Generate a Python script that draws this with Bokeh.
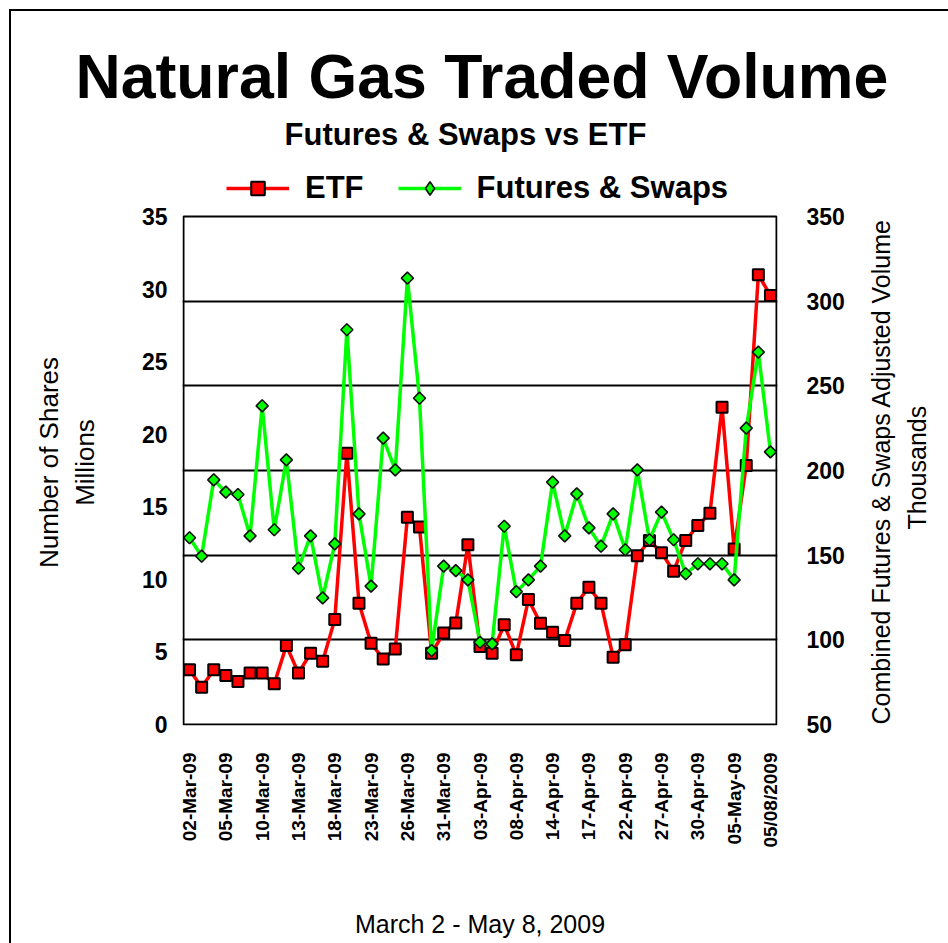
import math
from bokeh.plotting import figure
from bokeh.models import (Range1d, LinearAxis, FixedTicker, Grid, Label, BoxAnnotation,
                          Legend, LegendItem, Title)
from bokeh.embed import file_html
from bokeh.resources import INLINE

# ---------------- data ----------------
dates = ["02-Mar-09", "03-Mar-09", "04-Mar-09", "05-Mar-09", "06-Mar-09",
         "09-Mar-09", "10-Mar-09", "11-Mar-09", "12-Mar-09", "13-Mar-09",
         "16-Mar-09", "17-Mar-09", "18-Mar-09", "19-Mar-09", "20-Mar-09",
         "23-Mar-09", "24-Mar-09", "25-Mar-09", "26-Mar-09", "27-Mar-09",
         "30-Mar-09", "31-Mar-09", "01-Apr-09", "02-Apr-09", "03-Apr-09",
         "06-Apr-09", "07-Apr-09", "08-Apr-09", "09-Apr-09", "13-Apr-09",
         "14-Apr-09", "15-Apr-09", "16-Apr-09", "17-Apr-09", "20-Apr-09",
         "21-Apr-09", "22-Apr-09", "23-Apr-09", "24-Apr-09", "27-Apr-09",
         "28-Apr-09", "29-Apr-09", "30-Apr-09", "01-May-09", "04-May-09",
         "05-May-09", "06-May-09", "07-May-09", "05/08/2009"]

etf = [3.77, 2.57, 3.77, 3.38, 2.96, 3.54, 3.54, 2.80, 5.44, 3.54,
       4.91, 4.36, 7.23, 18.69, 8.36, 5.60, 4.52, 5.21, 14.28, 13.60,
       4.91, 6.31, 7.00, 12.38, 5.37, 4.91, 6.87, 4.80, 8.61, 6.98,
       6.36, 5.79, 8.36, 9.46, 8.36, 4.64, 5.49, 11.62, 12.68, 11.83,
       10.56, 12.68, 13.71, 14.56, 21.86, 12.10, 17.84, 30.98, 29.56]

futures_swaps = [160.3, 149.4, 194.5, 187.2, 185.8, 161.4, 238.2, 165.0, 206.3, 142.3,
                 161.4, 124.8, 156.7, 283.1, 174.4, 131.7, 219.1, 200.4, 313.6, 242.7,
                 93.7, 143.5, 140.9, 135.4, 98.6, 97.6, 167.1, 128.5, 135.4, 143.5,
                 193.1, 161.4, 186.2, 166.1, 155.3, 174.4, 153.2, 200.4, 159.1, 175.4,
                 159.1, 139.0, 144.9, 144.9, 144.9, 135.4, 225.0, 269.9, 211.0]

left_min, left_max = 0, 35
right_min, right_max = 50, 350
left_ticks = [0, 5, 10, 15, 20, 25, 30, 35]
right_ticks = [50, 100, 150, 200, 250, 300, 350]
grid_ticks = [100, 150, 200, 250, 300]
label_every = 3

title_text = "Natural Gas Traded Volume"
subtitle_text = "Futures & Swaps vs ETF"
footer_text = "March 2 - May 8, 2009"
left_title_1 = "Number of Shares"
left_title_2 = "Millions"
right_title_1 = "Combined  Futures & Swaps Adjusted Volume"
right_title_2 = "Thousands"

x = list(range(len(dates)))
x_ticks = list(range(0, len(dates), label_every))
n = len(dates)

FONT = "Liberation Sans"

# ---------------- geometry (page px) ----------------
W, H = 948, 943
BL, BR, BT, BB = 183, 776, 216, 724      # the drawn plot box
FT = 114                                # frame reaches up here: subtitle and legend live inside it
FL, FR, FB = BL - 1, BR + 1, BB + 1
ux = n / (BR - BL)                      # x units per px
uy = (left_max - left_min) / (BB - BT)  # left-axis units per px
ur = (right_max - right_min) / (BB - BT)

p = figure(width=W, height=H, output_backend="svg", toolbar_location=None,
           x_range=Range1d(-0.5 - ux, n - 0.5 + ux),
           y_range=Range1d(left_min - uy, left_min + (BB - FT) * uy),
           min_border_left=FL, min_border_right=W - FR,
           min_border_top=FT, min_border_bottom=H - FB)
p.title.visible = False
p.extra_y_ranges = {
    "right": Range1d(right_min - ur, right_min + (BB - FT) * ur),
    "px": Range1d(-1, BB - FT),          # pixel offsets up from the box bottom (axis titles)
    "key": Range1d(10000, 10001),        # legend-key renderer: its points fall outside the view
}
p.background_fill_color = "white"
p.border_fill_color = None
p.outline_line_color = None
p.xgrid.visible = False
p.ygrid.visible = False
# outer chart frame: left and top edges (the rest lies outside the window)
p.styles = {
    "background": "linear-gradient(#000, #000) 9px 9px / 2px 100% no-repeat, "
                  "linear-gradient(#000, #000) 9px 9px / 100% 2px no-repeat, #fff"
}


def dx(px):
    return -0.5 + (px - BL) * ux


def dy(py):
    return left_min + (BB - py) * uy


def style_axis(ax, size, bold=True):
    ax.major_label_text_font = FONT
    ax.major_label_text_font_style = "bold" if bold else "normal"
    ax.major_label_text_font_size = size
    ax.major_label_text_color = "black"
    ax.axis_line_color = None
    ax.major_tick_line_color = None
    ax.minor_tick_line_color = None
    ax.major_tick_out = 0
    ax.major_tick_in = 0
    ax.axis_label_text_font = FONT
    ax.axis_label_text_font_style = "normal"
    ax.axis_label_text_color = "black"


# x axis (footer text is its label)
xa = p.xaxis[0]
style_axis(xa, "19px")
xa.ticker = FixedTicker(ticks=x_ticks)
xa.major_label_overrides = {i: dates[i] for i in x_ticks}
xa.major_label_orientation = math.pi / 2
xa.major_label_standoff = 27
xa.axis_label = footer_text
xa.axis_label_text_font_size = "25px"
xa.axis_label_standoff = 59

# left value axis
ya = p.yaxis[0]
style_axis(ya, "23px")
ya.ticker = FixedTicker(ticks=left_ticks)
ya.bounds = (left_min, left_max)
ya.major_label_standoff = 15

# left-hand titles (rotated labels centred on the box middle)
mid_px = BB - 462
for txt, standoff in [(left_title_2, 39), (left_title_1, 3)]:
    ax = LinearAxis(y_range_name="px", ticker=FixedTicker(ticks=[mid_px]),
                    major_label_overrides={mid_px: txt})
    style_axis(ax, "26px", bold=False)
    ax.major_label_orientation = "parallel"
    ax.major_label_standoff = standoff
    p.add_layout(ax, "left")

# right value axis
ra = LinearAxis(y_range_name="right", ticker=FixedTicker(ticks=right_ticks),
                bounds=(right_min, right_max))
style_axis(ra, "23px")
ra.major_label_standoff = 29
p.add_layout(ra, "right")

# right-hand titles, read bottom-to-top (each starts at its tick)
for txt, start_px, standoff in [(right_title_1, 0, 33), (right_title_2, 195, 5)]:
    ax = LinearAxis(y_range_name="px", ticker=FixedTicker(ticks=[start_px]),
                    major_label_overrides={start_px: txt})
    style_axis(ax, "25px", bold=False)
    ax.major_label_orientation = math.pi / 2
    ax.major_label_standoff = standoff
    p.add_layout(ax, "right")

grid = Grid(dimension=1, ticker=FixedTicker(ticks=grid_ticks), y_range_name="right",
            grid_line_color="black", grid_line_width=2)
p.add_layout(grid)

# the plot box
p.add_layout(BoxAnnotation(left=-0.5, right=n - 0.5, bottom=left_min, top=left_max,
                           fill_alpha=0, line_color="black", line_alpha=1.0,
                           line_width=2, level="overlay"))

# series
l1 = p.line(x, etf, line_color="#FF0000", line_width=3.5)
s1 = p.scatter(x, etf, marker="square", size=11, fill_color="#FF0000",
               line_color="black", line_width=2)
l2 = p.line(x, futures_swaps, y_range_name="right", line_color="#00FF00", line_width=3.5)
s2 = p.scatter(x, futures_swaps, y_range_name="right", marker="square", angle=math.pi / 4,
               size=8.5, fill_color="#00FF00", line_color="#111111", line_width=1.6)
# legend key symbol (diamond); its points sit outside the visible range
s2_key = p.scatter(x, futures_swaps, y_range_name="key", marker="diamond", size=12,
                   fill_color="#00FF00", line_color="#111111", line_width=1.6)

legend = Legend(items=[LegendItem(label="ETF", renderers=[l1, s1]),
                       LegendItem(label="Futures & Swaps", renderers=[l2, s2_key])],
                orientation="horizontal", location=(226 - FL, FB - 189 - 17),
                glyph_width=63, glyph_height=34, label_height=34,
                label_standoff=16, spacing=34, padding=0, margin=0,
                border_line_color=None, background_fill_alpha=0,
                label_text_font=FONT, label_text_font_style="bold",
                label_text_font_size="31px", label_text_color="black")
p.add_layout(legend)

# subtitle (inside the frame area, above the box)
p.add_layout(Label(x=dx(465), y=dy(134), text=subtitle_text, text_font=FONT,
                   text_font_size="31px", text_font_style="bold",
                   text_align="center", text_baseline="alphabetic", text_color="black"))

# main title (above the frame)
p.add_layout(Title(text=title_text, align="left", offset=-107, standoff=7,
                   text_font=FONT, text_font_style="bold", text_font_size="62.6px",
                   text_color="black"), "above")

open("out.html", "w").write(file_html(p, INLINE))
